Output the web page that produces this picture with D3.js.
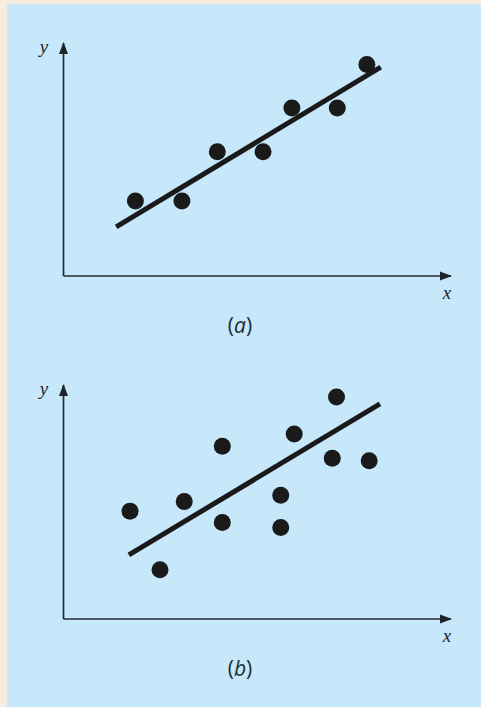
<!DOCTYPE html>
<html>
<head>
<meta charset="utf-8">
<script src="https://cdn.jsdelivr.net/npm/d3@7"></script>
<style>
  html, body { margin: 0; padding: 0; background: #f6ede1; }
  svg { display: block; }
</style>
</head>
<body>
<div id="chart"></div>
<script>
// panel (a): good fit
const aX = [1.87, 3.08, 4.0, 5.19, 5.94, 7.12, 7.89];
const aY = [3.22, 3.22, 5.33, 5.33, 7.21, 7.21, 9.08];
const aLineX = [1.37, 8.25];
const aLineY = [2.11, 8.96];

// panel (b): poor fit
const bX = [1.73, 2.51, 3.14, 4.13, 4.13, 5.65, 5.65, 6.0, 7.10, 6.99, 7.95];
const bY = [4.61, 2.10, 5.02, 7.38, 4.12, 5.29, 3.91, 7.91, 9.49, 6.87, 6.76];
const bLineX = [1.70, 8.23];
const bLineY = [2.74, 9.19];

const panels = [
  { xs: aX, ys: aY, lx: aLineX, ly: aLineY, label: "a", top: 43, bottom: 276 },
  { xs: bX, ys: bY, lx: bLineX, ly: bLineY, label: "b", top: 385, bottom: 619 }
];

const width = 481, height = 707;
const svg = d3.select("#chart").append("svg")
  .attr("width", width).attr("height", height);

// light blue panel
svg.append("rect")
  .attr("x", 7).attr("y", 4)
  .attr("width", width - 7).attr("height", height - 4)
  .attr("fill", "#c6e8fa");

const defs = svg.append("defs");
defs.append("marker")
  .attr("id", "arrow")
  .attr("viewBox", "0 0 12 10")
  .attr("refX", 11).attr("refY", 5)
  .attr("markerWidth", 12).attr("markerHeight", 10)
  .attr("markerUnits", "userSpaceOnUse")
  .attr("orient", "auto")
  .append("path")
  .attr("d", "M0,0.5 L12,5 L0,9.5 Z")
  .attr("fill", "#1f2428");

const left = 63.5, right = 451;

panels.forEach(p => {
  const x = d3.scaleLinear().domain([0, 10]).range([left, 448]);
  const y = d3.scaleLinear().domain([0, 10]).range([p.bottom, p.top]);
  const g = svg.append("g");

  // axes
  g.append("line")
    .attr("x1", left).attr("y1", p.bottom)
    .attr("x2", left).attr("y2", p.top)
    .attr("stroke", "#262b30").attr("stroke-width", 1.7)
    .attr("marker-end", "url(#arrow)");
  g.append("line")
    .attr("x1", left).attr("y1", p.bottom)
    .attr("x2", right).attr("y2", p.bottom)
    .attr("stroke", "#262b30").attr("stroke-width", 1.7)
    .attr("marker-end", "url(#arrow)");

  g.append("text")
    .attr("x", 44).attr("y", p.top + 10)
    .attr("text-anchor", "middle")
    .style("font-family", "'Liberation Serif', 'DejaVu Serif', serif")
    .style("font-style", "italic")
    .style("font-size", "19px")
    .attr("fill", "#1f2428")
    .text("y");
  g.append("text")
    .attr("x", 447).attr("y", p.bottom + 23)
    .attr("text-anchor", "middle")
    .style("font-family", "'Liberation Serif', 'DejaVu Serif', serif")
    .style("font-style", "italic")
    .style("font-size", "19px")
    .attr("fill", "#1f2428")
    .text("x");

  // regression line
  const line = d3.line()
    .x((d, i) => x(p.lx[i]))
    .y((d, i) => y(p.ly[i]));
  g.append("path")
    .datum(p.lx)
    .attr("d", line)
    .attr("fill", "none")
    .attr("stroke", "#1a1a1a")
    .attr("stroke-width", 5);

  // points
  g.selectAll(".dot")
    .data(p.xs).enter().append("circle")
    .attr("cx", d => x(d))
    .attr("cy", (d, i) => y(p.ys[i]))
    .attr("r", 8.5)
    .attr("fill", "#1a1a1a");

  // caption
  const cap = g.append("text")
    .attr("x", 240).attr("y", p.bottom + 57)
    .attr("text-anchor", "middle")
    .style("font-family", "'Open Sans', 'Liberation Sans', sans-serif")
    .style("font-size", "21px")
    .attr("fill", "#262b30");
  cap.append("tspan").text("(");
  cap.append("tspan").style("font-style", "italic").text(p.label);
  cap.append("tspan").text(")");
});
</script>
</body>
</html>
